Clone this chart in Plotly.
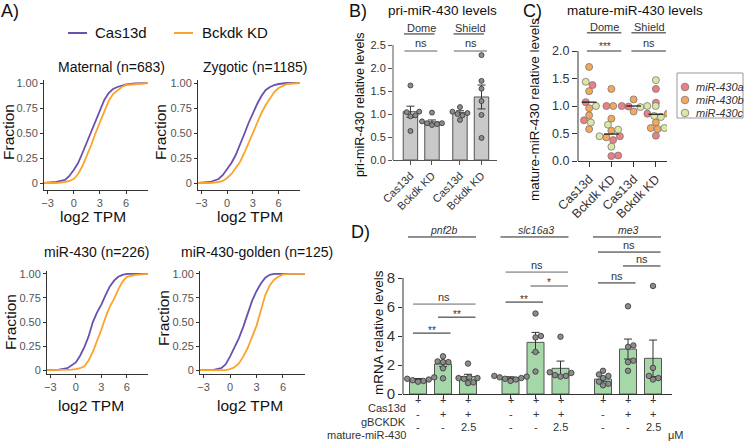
import numpy as np
import plotly.graph_objects as go

W, H = 744, 442
FONT = "Liberation Sans, Arial, sans-serif"

# ---------------- data ----------------
# Panel A: cumulative fractions vs log2 TPM
tpm_grid = [-3.4, -2, -1, -0.5, 0, 0.5, 1, 1.5, 2, 2.5, 3, 3.5, 4, 4.5, 5, 5.5, 6, 7, 8.5]
maternal_cas13d = [0, 0.01, 0.03, 0.07, 0.13, 0.2, 0.3, 0.41, 0.52, 0.63, 0.73, 0.83, 0.9, 0.94, 0.96, 0.975, 0.985, 0.995, 1.0]
maternal_bckdk = [0, 0, 0.01, 0.02, 0.04, 0.09, 0.17, 0.27, 0.38, 0.5, 0.61, 0.72, 0.82, 0.89, 0.93, 0.96, 0.98, 0.99, 1.0]
zygotic_cas13d = [0, 0.01, 0.04, 0.08, 0.14, 0.2, 0.28, 0.38, 0.49, 0.6, 0.7, 0.79, 0.87, 0.93, 0.96, 0.98, 0.99, 1.0, 1.0]
zygotic_bckdk = [0, 0, 0.01, 0.02, 0.05, 0.09, 0.15, 0.21, 0.3, 0.4, 0.5, 0.6, 0.7, 0.78, 0.85, 0.91, 0.95, 0.99, 1.0]
mir430_cas13d = [0, 0.005, 0.02, 0.05, 0.08, 0.15, 0.24, 0.35, 0.5, 0.6, 0.68, 0.78, 0.87, 0.93, 0.97, 0.99, 1.0, 1.0, 1.0]
mir430_bckdk = [0, 0, 0, 0.005, 0.01, 0.02, 0.04, 0.1, 0.19, 0.3, 0.42, 0.55, 0.66, 0.74, 0.84, 0.92, 0.97, 0.99, 1.0]
golden_cas13d = [0, 0, 0.02, 0.06, 0.14, 0.24, 0.33, 0.45, 0.58, 0.72, 0.82, 0.9, 0.96, 0.99, 1.0, 1.0, 1.0, 1.0, 1.0]
golden_bckdk = [0, 0, 0, 0, 0.01, 0.03, 0.07, 0.14, 0.23, 0.34, 0.46, 0.62, 0.78, 0.88, 0.94, 0.97, 0.995, 1.0, 1.0]
cdf_titles = ["Maternal (n=683)", "Zygotic (n=1185)", "miR-430 (n=226)", "miR-430-golden (n=125)"]
series_names = ["Cas13d", "Bckdk KD"]
cdf_xticks = [-3, 0, 3, 6]
cdf_yticks = [0, 0.25, 0.5, 0.75, 1.0]
cdf_yticktext = ["0", "0.25", "0.50", "0.75", "1.00"]

# Panel B: pri-miR-430
pri_labels = ["Cas13d", "Bckdk KD", "Cas13d", "Bckdk KD"]
pri_stages = ["Dome", "Shield"]
pri_means = [1.05, 0.83, 1.03, 1.37]
pri_sem = [0.12, 0.04, 0.04, 0.26]
pri_points = [[1.62, 1.05, 1.04, 0.97, 0.95, 0.63],
              [1.03, 0.84, 0.8, 0.8, 0.78, 0.76],
              [1.15, 1.05, 1.02, 1.0, 0.97, 0.87],
              [2.28, 1.72, 1.55, 1.28, 0.98, 0.48]]
pri_tests = ["ns", "ns"]
pri_yticks = [0, 0.5, 1.0, 1.5, 2.0, 2.5]

# Panel C: mature-miR-430
mat_labels = ["Cas13d", "Bckdk KD", "Cas13d", "Bckdk KD"]
mat_stages = ["Dome", "Shield"]
mat_a = [[1.38, 1.07, 0.74], [0.45, 0.38, 0.1, 0.09], [1.0, 0.99, 1.0], [1.31, 1.06, 0.86, 0.46]]
mat_b = [[1.71, 1.27, 0.96, 0.83, 0.58], [1.31, 0.77, 0.43, 0.55], [1.12, 0.9, 1.0], [0.86, 0.7, 0.6, 0.58]]
mat_c = [[1.44, 1.0, 0.7], [0.66, 0.57, 0.45, 0.26], [1.0, 1.0, 0.98], [1.47, 0.8, 0.82, 0.6]]
mat_medians = [1.07, 0.49, 1.0, 0.85]
mat_names = ["miR-430a", "miR-430b", "miR-430c"]
mat_tests = ["***", "ns"]
mat_yticks = [0, 0.5, 1.0, 1.5, 2.0]

# Panel D: mRNA levels
d_genes = ["pnf2b", "slc16a3", "me3"]
d_means = [1.0, 2.07, 1.2, 1.12, 3.56, 1.77, 1.03, 3.1, 2.46]
d_sem = [0.07, 0.18, 0.16, 0.07, 0.69, 0.5, 0.15, 0.69, 1.26]
d_points = [[1.15, 1.05, 1.0, 0.95, 0.9, 0.85],
            [2.6, 2.25, 2.2, 2.2, 1.77, 1.08],
            [2.1, 1.15, 1.1, 1.1, 1.05, 0.8, 0.75],
            [1.25, 1.15, 1.05, 1.1, 1.0, 0.9, 1.2],
            [5.55, 4.0, 3.9, 2.9, 1.55],
            [3.95, 1.45, 1.3, 1.25, 1.2, 1.5],
            [1.6, 1.35, 1.25, 1.1, 0.85, 0.7, 0.6],
            [6.05, 3.35, 3.25, 2.3, 2.2, 1.6],
            [7.45, 1.8, 1.25, 1.1, 1.0]]
d_row_labels = ["Cas13d", "gBCKDK", "mature-miR-430"]
d_row_cas13d = ["+", "+", "+"]
d_row_gbckdk = ["-", "+", "+"]
d_row_mir = ["-", "-", "2.5"]
d_unit = "\u03bcM"
d_yticks = [0, 2, 4, 6, 8]
# comparisons: (bar i, bar j, level, label)
d_tests = [(0, 1, 4.2, "**"), (1, 2, 5.3, "**"), (0, 2, 6.2, "ns"),
           (3, 4, 6.34, "**"), (4, 5, 7.45, "*"), (3, 5, 8.41, "ns"),
           (6, 7, 7.66, "ns"), (7, 8, 8.83, "ns"), (6, 8, 9.79, "ns")]
d_test_grey = [False, False, True, False, True, True, False, False, False]

# ---------------- style / layout helpers ----------------
C_PURPLE = "#6a50b0"
C_ORANGE = "#fba42c"
BAR_GREY = "#c9c9c9"
BAR_GREEN = "#a6d7a8"
PT_GREY = "#8c8c8c"
MIR_COLORS = ["#eb7f86", "#f5a85a", "#dde6a5"]
TXT = "#222222"


def PX(x):
    return x / W


def PY(y):
    return 1 - y / H


def dom_x(a, b):
    return [a / W, b / W]


def dom_y(top, bottom):
    return [1 - bottom / H, 1 - top / H]


annotations = []
shapes = []


def ann(text, x, y, xref="paper", yref="paper", size=11, color=TXT, xanchor="center",
        yanchor="middle", angle=0, yshift=0):
    if xref == "paper":
        x = PX(x)
    if yref == "paper":
        y = PY(y)
    annotations.append(dict(text=text, x=x, y=y, xref=xref, yref=yref, showarrow=False,
                            xanchor=xanchor, yanchor=yanchor, textangle=angle, yshift=yshift,
                            font=dict(family=FONT, size=size, color=color)))


def line(x0, x1, y0, y1, xref, yref, color="#222", width=1):
    shapes.append(dict(type="line", x0=x0, x1=x1, y0=y0, y1=y1, xref=xref, yref=yref,
                       line=dict(color=color, width=width)))


def swarm(values, ppu_x, ppu_y, diam):
    vals = np.asarray(values, dtype=float)
    order = np.argsort(vals)
    placed = []
    offs = np.zeros(len(vals))
    step = diam / 4.0
    cands = [0.0]
    for m in range(1, 60):
        cands += [m * step, -m * step]
    for i in order:
        y = vals[i] * ppu_y
        chosen = 0.0
        for dx in cands:
            if all((dx - a) ** 2 + (y - b) ** 2 >= diam ** 2 for a, b in placed):
                chosen = dx
                break
        placed.append((chosen, y))
        offs[i] = chosen / ppu_x
    return offs


fig = go.Figure()
layout_axes = {}

# ---------------- Panel A ----------------
cdf_sets = [(maternal_cas13d, maternal_bckdk), (zygotic_cas13d, zygotic_bckdk),
            (mir430_cas13d, mir430_bckdk), (golden_cas13d, golden_bckdk)]
cdf_geom = [((44, 148), (80, 190), [-0.07, 1.03]),
            ((198, 300), (80, 190), [-0.07, 1.03]),
            ((47, 148), (271, 374), [-0.04, 1.03]),
            ((200, 305), (271, 374), [-0.04, 1.03])]
cdf_title_pos = [(111, 67), (255, 67), (96, 252), (257, 252)]
cdf_ytitle_pos = [(8, 132), (160, 132), (10, 322), (163, 318)]
cdf_xtitle_pos = [(93, 216), (250, 216), (91, 405), (250, 405)]

for k, (cas, bck) in enumerate(cdf_sets):
    n = k + 1
    suf = "" if n == 1 else str(n)
    fig.add_trace(go.Scatter(x=tpm_grid, y=cas, mode="lines", name=series_names[0],
                             line=dict(color=C_PURPLE, width=1.8), xaxis="x" + suf, yaxis="y" + suf,
                             showlegend=False))
    fig.add_trace(go.Scatter(x=tpm_grid, y=bck, mode="lines", name=series_names[1],
                             line=dict(color=C_ORANGE, width=1.8), xaxis="x" + suf, yaxis="y" + suf,
                             showlegend=False))
    (xa, xb), (yt, yb), yr = cdf_geom[k]
    common = dict(showgrid=False, zeroline=False, showline=True, linecolor="#333", linewidth=1,
                  ticks="outside", ticklen=3, tickwidth=1, tickcolor="#333", automargin=False,
                  tickfont=dict(family=FONT, size=11, color="#555"))
    layout_axes["xaxis" + suf] = dict(common, domain=dom_x(xa, xb), range=[-3.4, 8.5],
                                      tickvals=cdf_xticks, anchor="y" + suf)
    layout_axes["yaxis" + suf] = dict(common, domain=dom_y(yt, yb), range=yr,
                                      tickvals=cdf_yticks, ticktext=cdf_yticktext, anchor="x" + suf)
    ann(cdf_titles[k], *cdf_title_pos[k], size=14, color="#111")
    ann("Fraction", *cdf_ytitle_pos[k], size=15.5, color="#111", angle=-90)
    ann("log2 TPM", *cdf_xtitle_pos[k], size=15.5, color="#111")

# legend A (manual)
line(PX(68), PX(87), PY(33), PY(33), "paper", "paper", C_PURPLE, 2)
ann(series_names[0], 93, 33, size=15, color="#111", xanchor="left")
line(PX(174), PX(193), PY(33), PY(33), "paper", "paper", C_ORANGE, 2)
ann(series_names[1], 200, 33, size=15, color="#111", xanchor="left")
ann("A)", 10, 11, size=18, color="#111")

# ---------------- Panel B ----------------
pri_x = [0, 1, 2.3, 3.3]
b_xdom, b_ydom = (393, 497), (20, 160)
b_xr = [-0.81, 4.02]
b_yr = [0, (b_ydom[1] - b_ydom[0]) / 46.0]
fig.add_trace(go.Bar(x=pri_x, y=pri_means, width=0.67,
                     marker=dict(color=BAR_GREY, line=dict(color="#555", width=1)),
                     error_y=dict(type="data", array=pri_sem, color="#333", thickness=1, width=4),
                     xaxis="x5", yaxis="y5", showlegend=False))
ppx = (b_xdom[1] - b_xdom[0]) / (b_xr[1] - b_xr[0])
ppy = (b_ydom[1] - b_ydom[0]) / (b_yr[1] - b_yr[0])
bx, by = [], []
for xi, pts in zip(pri_x, pri_points):
    offs = swarm(pts, ppx, ppy, 5.0)
    bx += list(xi + offs)
    by += list(pts)
fig.add_trace(go.Scatter(x=bx, y=by, mode="markers", xaxis="x5", yaxis="y5", showlegend=False,
                         marker=dict(size=5, color=PT_GREY, line=dict(color="#333", width=0.8))))
axB = dict(showgrid=False, zeroline=False, ticks="outside", ticklen=4, tickwidth=1, tickcolor="#555",
           automargin=False, tickfont=dict(family=FONT, size=11, color="#333"))
layout_axes["xaxis5"] = dict(axB, domain=dom_x(*b_xdom), range=b_xr, tickvals=pri_x, ticktext=pri_labels,
                             tickangle=-45, showline=True, linecolor="#555", linewidth=1, anchor="y5")
layout_axes["yaxis5"] = dict(axB, domain=dom_y(*b_ydom), range=b_yr, tickvals=pri_yticks,
                             ticktext=["%.1f" % v for v in pri_yticks], showline=False, anchor="x5")
line(0, 0, 0, pri_yticks[-1], "x5 domain", "y5", "#555", 1)
for g in range(2):
    i, j = 2 * g, 2 * g + 1
    line(pri_x[i] - 0.3, pri_x[j] + 0.12, 2.74, 2.74, "x5", "y5", "#222", 1)
    ann(pri_stages[g], (pri_x[i] + pri_x[j]) / 2, 2.88, "x5", "y5", size=11, color="#333")
    line(pri_x[i] - 0.28, pri_x[j] + 0.25, 2.37, 2.37, "x5", "y5", "#b0b0b0", 2)
    ann(pri_tests[g], (pri_x[i] + pri_x[j]) / 2, 2.54, "x5", "y5", size=11, color="#333")
ann("pri-miR-430 relative levels", 360, 105, size=12.5, color="#111", angle=-90)
ann("pri-miR-430 levels", 442, 10, size=13.5, color="#111")
ann("B)", 358, 11, size=18, color="#111")

# ---------------- Panel C ----------------
mat_x = [0, 1, 2, 3]
c_xdom, c_ydom = (578, 667), (20, 161)
c_xr = [-0.5, 3.5]
c_yr = [0, (c_ydom[1] - c_ydom[0]) / 55.0]
ppx = (c_xdom[1] - c_xdom[0]) / (c_xr[1] - c_xr[0])
ppy = (c_ydom[1] - c_ydom[0]) / (c_yr[1] - c_yr[0])
series_pts = [([], []), ([], []), ([], [])]
for gi, xi in enumerate(mat_x):
    vals, tags = [], []
    for s, arr in enumerate([mat_a, mat_b, mat_c]):
        vals += arr[gi]
        tags += [s] * len(arr[gi])
    offs = swarm(vals, ppx, ppy, 6.8)
    for v, t, o in zip(vals, tags, offs):
        series_pts[t][0].append(xi + o)
        series_pts[t][1].append(v)
for s in range(3):
    fig.add_trace(go.Scatter(x=series_pts[s][0], y=series_pts[s][1], mode="markers", name=mat_names[s],
                             xaxis="x6", yaxis="y6", showlegend=False,
                             marker=dict(size=7, color=MIR_COLORS[s], line=dict(color="#777", width=0.8))))
axC = dict(showgrid=False, zeroline=False, ticks="outside", ticklen=5, tickwidth=1, tickcolor="#333",
           automargin=False, tickfont=dict(family=FONT, size=12.5, color="#333"))
layout_axes["xaxis6"] = dict(axC, domain=dom_x(*c_xdom), range=c_xr, tickvals=mat_x, ticktext=mat_labels,
                             tickangle=-45, showline=True, linecolor="#333", linewidth=1, anchor="y6")
layout_axes["yaxis6"] = dict(axC, domain=dom_y(*c_ydom), range=c_yr, tickvals=mat_yticks,
                             ticktext=["%.1f" % v for v in mat_yticks], showline=False, anchor="x6")
line(0, 0, 0, mat_yticks[-1], "x6 domain", "y6", "#333", 1)
for xi, m in zip(mat_x, mat_medians):
    line(xi - 0.33, xi + 0.33, m, m, "x6", "y6", "#111", 1.2)
for g in range(2):
    i, j = 2 * g, 2 * g + 1
    line(mat_x[i] - 0.1, mat_x[j] + 0.45, 2.33, 2.33, "x6", "y6", "#222", 1)
    ann(mat_stages[g], (mat_x[i] + mat_x[j]) / 2 + 0.2, 2.44, "x6", "y6", size=11, color="#333")
    line(mat_x[i] - 0.1, mat_x[j] + 0.45, 2.0, 2.0, "x6", "y6", "#333", 1)
    is_star = "*" in mat_tests[g]
    ann(mat_tests[g], (mat_x[i] + mat_x[j]) / 2 + 0.2, 2.0, "x6", "y6",
        size=10 if is_star else 11, color="#333", yshift=4 if is_star else 8)
ann("mature-miR-430 relative levels", 534, 110, size=13.5, color="#111", angle=-90)
ann("mature-miR-430 levels", 635, 10, size=13.5, color="#111")
ann("C)", 532, 11, size=18, color="#111")
# legend C (manual)
shapes.append(dict(type="rect", xref="paper", yref="paper", x0=PX(677), x1=PX(743), y0=PY(118), y1=PY(73),
                   line=dict(color="#999", width=1), fillcolor="white"))
for s, yy in enumerate([87, 100, 113]):
    shapes.append(dict(type="circle", xref="paper", yref="paper", xsizemode="pixel", ysizemode="pixel",
                       xanchor=PX(685), yanchor=PY(yy), x0=-3.8, x1=3.8, y0=-3.8, y1=3.8,
                       fillcolor=MIR_COLORS[s], line=dict(color="#777", width=0.8)))
    ann("<i>%s</i>" % mat_names[s], 694, yy, size=11, color="#333", xanchor="left")

# ---------------- Panel D ----------------
d_x = [0, 1, 2, 3.7, 4.7, 5.7, 7.4, 8.4, 9.4]
d_xdom, d_ydom = (403, 672), (222, 394)
d_xr = [-0.6, 10.16]
d_yr = [0, (d_ydom[1] - d_ydom[0]) / 14.5]
fig.add_trace(go.Bar(x=d_x, y=d_means, width=0.68,
                     marker=dict(color=BAR_GREEN, line=dict(color="#555", width=1)),
                     error_y=dict(type="data", array=d_sem, color="#333", thickness=1, width=4),
                     xaxis="x7", yaxis="y7", showlegend=False))
ppx = (d_xdom[1] - d_xdom[0]) / (d_xr[1] - d_xr[0])
ppy = (d_ydom[1] - d_ydom[0]) / (d_yr[1] - d_yr[0])
dx_, dy_ = [], []
for xi, pts in zip(d_x, d_points):
    offs = swarm(pts, ppx, ppy, 5.4)
    dx_ += list(xi + offs)
    dy_ += list(pts)
fig.add_trace(go.Scatter(x=dx_, y=dy_, mode="markers", xaxis="x7", yaxis="y7", showlegend=False,
                         marker=dict(size=5.5, color=PT_GREY, line=dict(color="#333", width=0.8))))
axD = dict(showgrid=False, zeroline=False, ticks="outside", ticklen=4, tickwidth=1, tickcolor="#333",
           automargin=False)
layout_axes["xaxis7"] = dict(axD, domain=dom_x(*d_xdom), range=d_xr, tickvals=d_x, showticklabels=False,
                             showline=True, linecolor="#333", linewidth=1, anchor="y7")
layout_axes["yaxis7"] = dict(axD, domain=dom_y(*d_ydom), range=d_yr, tickvals=d_yticks,
                             tickfont=dict(family=FONT, size=15, color="#333"), showline=False, anchor="x7")
line(0, 0, 0, d_yticks[-1], "x7 domain", "y7", "#333", 1)
for g, gene in enumerate(d_genes):
    i, j = 3 * g, 3 * g + 2
    line(d_x[i] - 0.4, d_x[j] + 0.32, 10.83, 10.83, "x7", "y7", "#222", 1)
    ann("<i>%s</i>" % gene, (d_x[i] + d_x[j]) / 2, 11.31, "x7", "y7", size=10.5, color="#333")
for (i, j, lev, lab), grey in zip(d_tests, d_test_grey):
    col = "#a8a8a8" if grey else "#222"
    line(d_x[i] - 0.2, d_x[j] + 0.3, lev, lev, "x7", "y7", col, 1.8 if grey else 1)
    is_star = "*" in lab
    ann(lab, (d_x[i] + d_x[j]) / 2 + 0.05, lev, "x7", "y7", size=10 if is_star else 11, color="#333",
        yshift=3 if is_star else 7)
rows = [d_row_cas13d, d_row_gbckdk, d_row_mir]
for r, (lab, yy) in enumerate(zip(d_row_labels, [408, 422, 435])):
    ann(lab, 408, yy, size=11, color="#333", xanchor="right")
    for xi, sym in zip(d_x, rows[r] * 3):
        annotations.append(dict(text=sym, x=xi, y=PY(yy), xref="x7", yref="paper", showarrow=False,
                                font=dict(family=FONT, size=11, color="#333")))
ann(d_unit, 666, 435, size=11, color="#333", xanchor="left")
ann("mRNA relative levels", 378, 333, size=13.5, color="#111", angle=-90)
ann("D)", 360, 232, size=18, color="#111")

fig.update_layout(width=W, height=H, autosize=False,
                  margin=dict(l=0, r=0, t=0, b=0, pad=0, autoexpand=False),
                  paper_bgcolor="white", plot_bgcolor="white", showlegend=False, hovermode=False,
                  font=dict(family=FONT), annotations=annotations, shapes=shapes, **layout_axes)
fig.write_html("out.html", config={"displayModeBar": False, "staticPlot": True},
               post_script="document.body.style.margin='0';document.body.style.padding='0';"
                           "document.body.style.overflow='hidden';")
